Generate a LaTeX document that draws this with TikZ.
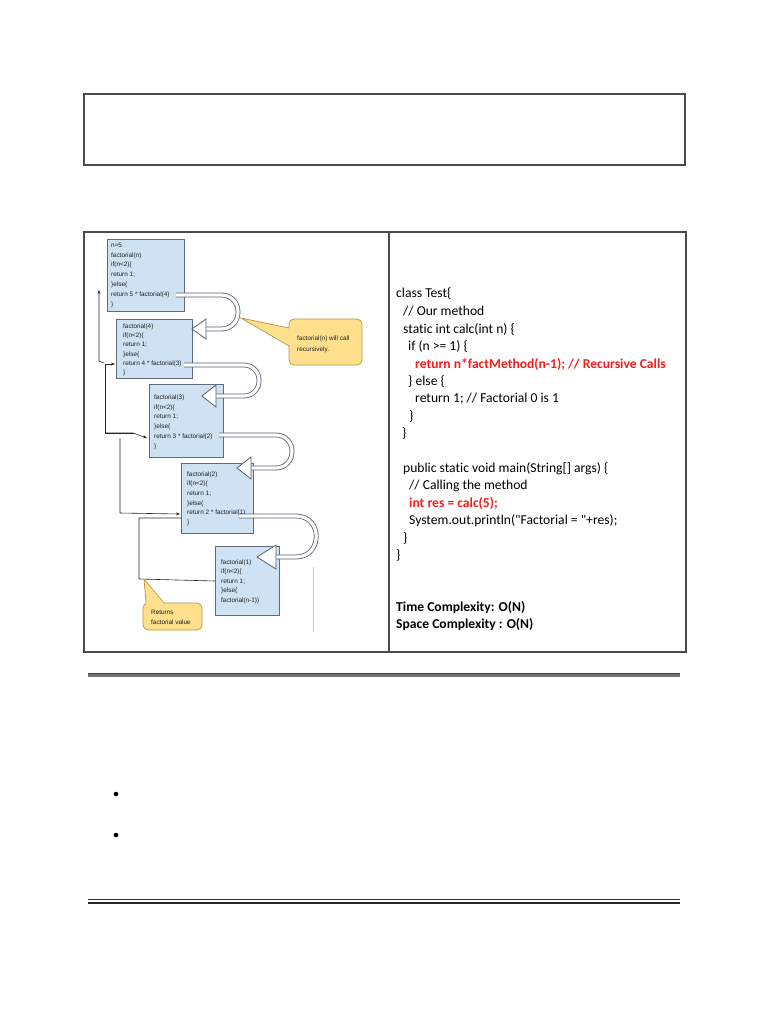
\documentclass[tikz,border=0pt]{standalone}
\usepackage{fontspec}
\setmainfont{Carlito}[Ligatures={TeX,NoCommon}]
\newfontfamily\codef{Carlito}[Ligatures=NoCommon]
\newfontfamily\arialf{Liberation Sans}
\usetikzlibrary{arrows.meta}
\definecolor{boxblue}{HTML}{CFE2F3}
\definecolor{boxedge}{HTML}{5F6B78}
\definecolor{callfill}{HTML}{FFE08C}
\definecolor{calledge}{HTML}{B8963C}
\definecolor{tubeedge}{HTML}{56606C}
\definecolor{codered}{HTML}{FF1A1A}
\definecolor{framegray}{HTML}{4A4A4A}
\begin{document}
\begin{tikzpicture}[x=1pt,y=-1pt,
  frame/.style={draw=framegray, line width=1.3pt, inner sep=0pt},
  blbox/.style={draw=boxedge, fill=boxblue, line width=0.7pt, inner sep=0pt},
  tiny/.style={font=\arialf\fontsize{6.4}{7}\selectfont, text=black!88, anchor=base west, inner sep=0pt},
  code/.style={font=\codef\fontsize{13.6}{15}\selectfont, anchor=base west, inner sep=0pt},
  redcode/.style={code, font=\codef\fontsize{13.6}{15}\selectfont\bfseries, text=codered},
  boldcode/.style={code, font=\codef\fontsize{13.6}{15}\selectfont\bfseries},
  tube/.style={draw=tubeedge, line width=0.8pt, double=white, double distance=3.2pt},
  tubehead/.style={draw=tubeedge, line width=0.8pt, fill=white},
  retline/.style={draw=black!85, line width=0.6pt, -{Stealth[length=4pt,width=3pt]}},
  plainline/.style={draw=black!85, line width=0.6pt},
  callout/.style={draw=calledge, fill=callfill, line width=0.7pt, rounded corners=5pt, inner sep=0pt},
  bullet/.style={circle, fill=black, inner sep=0pt, minimum size=4.6pt},
]
\useasboundingbox (0,0) rectangle (768,1024);
\fill[white] (0,0) rectangle (768,1024);

% top empty box
\node[frame, minimum width=601pt, minimum height=71pt] (topbox) at (384.5,129.5) {};

% table
\node[frame, minimum width=602pt, minimum height=420pt] (table) at (385,442) {};
\coordinate (divtop) at (389,232);
\coordinate (divbot) at (389,652);
\draw[framegray, line width=1.1pt] (divtop) -- (divbot);

% ---------- left diagram ----------
\draw[gray!45, line width=0.5pt] (313,567) -- (313,632);

% return lines
\draw[retline] (104,363) -- (99,361) -- (99,290);
\draw[retline] (134,433) -- (105,433) -- (105,364) -- (115,364);
\draw[retline] (105,433) -- (133,433) -- (147,438);
\draw[retline] (120,438) -- (120,513) -- (180,514);
\draw[plainline] (181,518) -- (139,518) -- (139,579) -- (215,581);

% boxes
\node[blbox, minimum width=77pt, minimum height=72pt] (box1) at (145.5,275) {};
\node[blbox, minimum width=76pt, minimum height=59pt] (box2) at (154,348.5) {};
\node[blbox, minimum width=74pt, minimum height=73pt] (box3) at (186,420.5) {};
\node[blbox, minimum width=72pt, minimum height=70pt] (box4) at (217,498) {};
\node[blbox, minimum width=64pt, minimum height=69pt] (box5) at (247,580.5) {};

\foreach \t [count=\i from 0] in {n=5, factorial(n), if(n<2)\{, return 1;, \}else\{, return 5 * factorial(4), \}}
  \node[tiny] (bA\i) at (111, 247.2+\i*9.8) {\t};
\foreach \t [count=\i from 0] in {factorial(4), if(n<2)\{, return 1;, \}else\{, return 4 * factorial(3), \}}
  \node[tiny] (bB\i) at (123, 328.2+\i*9.3) {\t};
\foreach \t [count=\i from 0] in {factorial(3), if(n<2)\{, return 1;, \}else\{, return 3 * factorial(2), \}}
  \node[tiny] (bC\i) at (154, 399.2+\i*9.8) {\t};
\foreach \t [count=\i from 0] in {factorial(2), if(n<2)\{, return 1;, \}else\{, return 2 * factorial(1), \}}
  \node[tiny] (bD\i) at (187, 476.2+\i*9.6) {\t};
\foreach \t [count=\i from 0] in {factorial(1), if(n<2)\{, return 1;, \}else\{, factorial(n-1)\}}
  \node[tiny] (bE\i) at (221, 564.2+\i*9.5) {\t};

% hollow U arrows
\coordinate (t1s) at (176,295);
\draw[tube] (t1s) -- (221,295) .. controls (243.7,295) and (243.7,329) .. (221,329) -- (206,329);
\draw[tubehead] (192,329) -- (206,319) -- (206,339) -- cycle;

\coordinate (t2s) at (184,365);
\draw[tube] (t2s) -- (243.5,365) .. controls (264.2,365) and (264.2,396) .. (243.5,396) -- (216,396);
\draw[tubehead] (202,396) -- (216,385) -- (216,407) -- cycle;

\coordinate (t3s) at (219,435);
\draw[tube] (t3s) -- (275.5,435) .. controls (297.5,435) and (297.5,468) .. (275.5,468) -- (251,468);
\draw[tubehead] (237,468) -- (251,457) -- (251,479) -- cycle;

\coordinate (t4s) at (239,516);
\draw[tube] (t4s) -- (296,516) .. controls (323,516) and (323,557) .. (296,557) -- (276,557);
\draw[tubehead] (257,557) -- (276,545) -- (276,569) -- cycle;

% callouts
\node[callout, minimum width=73pt, minimum height=46pt] (call1) at (325.5,342) {};
\fill[callfill] (241,318) -- (290,328) -- (290,346) -- cycle;
\draw[calledge, line width=0.7pt] (289,328) -- (241,318) -- (289,346);
\node[tiny] (call1a) at (297,340.2) {factorial(n) will call};
\node[tiny] (call1b) at (297,351.2) {recursively.};

\node[callout, minimum width=59pt, minimum height=27pt] (call2) at (172.5,616.5) {};
\fill[callfill] (144,579) -- (146,604) -- (164,604) -- cycle;
\draw[calledge, line width=0.7pt] (146,603) -- (144,579) -- (164,603);
\node[tiny] (call2a) at (151,614.2) {Returns};
\node[tiny] (call2b) at (151,624.2) {factorial value};

% ---------- right code ----------
\node[code] (c1) at (396,297.5) {class Test\{};
\node[code] (c2) at (403,315.5) {// Our method};
\node[code] (c3) at (403,333) {static int calc(int n) \{};
\node[code] (c4) at (408,350.5) {if (n >= 1) \{};
\node[redcode] (c5) at (415,368) {return n*factMethod(n-1); // Recursive Calls};
\node[code] (c6) at (408,385) {\} else \{};
\node[code] (c7) at (415,402.5) {return 1; // Factorial 0 is 1};
\node[code] (c8) at (409,420) {\}};
\node[code] (c9) at (402,437.5) {\}};
\node[code] (c10) at (403,472) {public static void main(String[] args) \{};
\node[code] (c11) at (409,489.5) {// Calling the method};
\node[redcode] (c12) at (409,507) {int res = calc(5);};
\node[code] (c13) at (409,524.5) {System.out.println("Factorial = "+res);};
\node[code] (c14) at (403,542) {\}};
\node[code] (c15) at (396,559.5) {\}};
\node[boldcode] (c16) at (396,611) {Time Complexity: O(N)};
\node[boldcode] (c17) at (396,628.5) {Space Complexity : O(N)};

% ---------- rules and bullets ----------
\coordinate (h1a) at (88,675);
\coordinate (h1b) at (680,675);
\draw[black!55, line width=3pt] (h1a) -- (h1b);
\draw[black!75, line width=0.8pt] (88,673.8) -- (680,673.8);

\node[bullet] (bul1) at (116,794) {};
\node[bullet] (bul2) at (116,835) {};

\coordinate (h2a) at (88,899.5);
\coordinate (h2b) at (680,899.5);
\draw[black!80, line width=0.8pt] (h2a) -- (h2b);
\draw[black!85, line width=1.8pt] (88,903) -- (680,903);
\end{tikzpicture}
\end{document}
